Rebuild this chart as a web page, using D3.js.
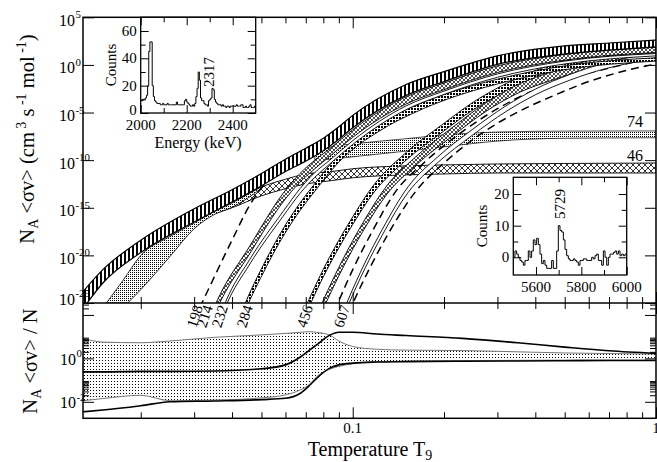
<!DOCTYPE html>
<html>
<head>
<meta charset="utf-8">
<script src="https://cdn.jsdelivr.net/npm/d3@7"></script>
<style>
  body { margin: 0; background: #fff; }
  text { font-family: "Liberation Serif", "DejaVu Serif", serif; fill: #000; }
</style>
</head>
<body>
<div id="chart"></div>
<script>
// ---------- data, log10 of N_A<sv> ----------
// total rate, vertical hatching
var tA  = [0.0129, 0.015, 0.02, 0.03, 0.04, 0.05, 0.06, 0.07, 0.08, 0.09, 0.1, 0.15, 0.2, 0.3, 0.5, 0.7, 1.0];
var aHi = [-23.8, -21.5, -18.4, -15.1, -13.1, -11.4, -9.9, -8.75, -7.7, -6.5, -5.3, -2.05, -0.7, 0.95, 2.0, 2.3, 2.6];
var aLo = [-25.6, -22.9, -19.7, -16.5, -14.4, -12.7, -11.2, -10.1, -9.0, -7.8, -6.6, -3.2, -1.75, 0.05, 1.15, 1.55, 1.9];
// low temperature stippled band
var tB  = [0.015, 0.0175, 0.02, 0.025, 0.03, 0.035, 0.04, 0.045, 0.05];
var bHi = [-25.5, -22.6, -20.0, -18.0, -16.6, -15.4, -14.5, -13.6, -12.8];
var bLo = [-28.0, -25.5, -23.6, -20.1, -17.2, -15.7, -14.95, -14.0, -12.95];
// "46" band, cross hatched
var t46  = [0.032, 0.04, 0.05, 0.06, 0.07, 0.085, 0.1, 0.15, 0.2, 0.3, 0.5, 1.0];
var hi46 = [-15.6, -14.2, -12.8, -12.0, -11.45, -11.2, -10.9, -10.6, -10.5, -10.4, -10.35, -10.3];
var lo46 = [-16.0, -15.0, -13.75, -13.0, -12.5, -12.15, -11.85, -11.55, -11.45, -11.35, -11.35, -11.35];
// "74" band, stippled
var t74  = [0.075, 0.085, 0.1, 0.15, 0.2, 0.3, 0.5, 1.0];
var hi74 = [-9.3, -8.6, -8.3, -7.75, -7.35, -7.05, -6.95, -6.93];
var lo74 = [-10.0, -9.9, -9.65, -9.05, -8.6, -8.0, -7.7, -7.65];
// narrow resonances
var t198 = [0.030, 0.0316, 0.040, 0.0458, 0.0525, 0.057];
var r198 = [-26.7, -25.2, -18.4, -14.7, -12.1, -11.0];
var t214  = [0.034, 0.0359, 0.0458, 0.0589, 0.067, 0.075, 0.084, 0.1, 0.15, 0.2, 0.3, 0.5, 1.0];
var hi214 = [-26.3, -24.6, -19.0, -13.5, -11.4, -10.0, -8.8, -6.8, -3.35, -1.9, -0.1, 1.1, 1.85];
var lo214 = [-27.1, -25.4, -19.8, -14.4, -12.3, -10.9, -9.6, -7.6, -4.1, -2.6, -0.8, 0.5, 1.3];
var t232  = [0.0365, 0.0382, 0.0458, 0.0589, 0.067, 0.075, 0.084, 0.1, 0.15, 0.2, 0.3, 0.5, 1.0];
var hi232 = [-26.4, -24.8, -20.4, -15.4, -13.0, -11.3, -10.0, -7.95, -4.3, -2.75, -0.95, 0.4, 1.2];
var lo232 = [-26.9, -25.3, -20.9, -15.9, -13.5, -11.8, -10.4, -8.35, -4.7, -3.1, -1.3, 0.1, 0.95];
var t284  = [0.043, 0.0448, 0.05, 0.06, 0.067, 0.074, 0.09, 0.123, 0.16, 0.209, 0.3, 0.5, 1.0];
var hi284 = [-26.0, -24.6, -21.4, -16.8, -14.5, -12.7, -9.4, -6.1, -4.3, -2.9, -1.5, -0.1, 0.75];
var lo284 = [-26.8, -25.4, -22.2, -17.6, -15.3, -13.5, -10.2, -6.9, -5.0, -3.5, -2.0, -0.5, 0.4];
var t456  = [0.069, 0.0718, 0.08, 0.09, 0.1, 0.1167, 0.15, 0.1986, 0.25, 0.323, 0.4, 0.5334, 0.7, 1.0];
var hi456 = [-25.8, -24.6, -21.45, -18.4, -15.95, -12.7, -9.2, -6.2, -3.9, -1.9, -0.6, 0.7, 1.35, 1.95];
var lo456 = [-26.6, -25.4, -22.25, -19.2, -16.75, -13.5, -10.0, -7.0, -4.7, -2.7, -1.4, -0.1, 0.55, 1.15];
var tX  = [0.078, 0.0804, 0.09, 0.1, 0.11, 0.1298, 0.16, 0.2176, 0.27, 0.3566, 0.45, 0.655, 0.8, 1.0];
var hiX = [-25.5, -24.55, -21.25, -18.45, -16.15, -12.65, -9.75, -6.35, -4.15, -1.95, -0.75, 0.75, 1.25, 1.7];
var loX = [-26.4, -25.45, -22.15, -19.35, -17.05, -13.55, -10.65, -7.25, -5.05, -2.85, -1.65, -0.15, 0.35, 0.8];
var tDa = [0.087, 0.0894, 0.1, 0.115, 0.14, 0.17, 0.2348, 0.3, 0.3846, 0.5, 0.7066, 0.85, 1.0];
var rDa = [-25.9, -25, -21.5, -17.7, -13.1, -10.4, -6.8, -4.6, -2.85, -1.55, -0.3, 0.3, 0.7];
var t607  = [0.094, 0.0965, 0.11, 0.125, 0.1522, 0.19, 0.2476, 0.32, 0.3995, 0.52, 0.68, 0.85, 1.0];
var hi607 = [-25.6, -24.7, -20.7, -17.3, -12.8, -9.7, -6.8, -4.3, -2.55, -1.0, 0.2, 0.9, 1.35];
var lo607 = [-26.2, -25.3, -21.3, -17.9, -13.4, -10.3, -7.4, -4.9, -3.15, -1.6, -0.4, 0.3, 0.75];
var tDb = [0.097, 0.1002, 0.115, 0.13, 0.163, 0.2, 0.2775, 0.35, 0.4653, 0.6, 0.7623, 0.9, 1.0];
var rDb = [-26.0, -25, -21.05, -17.9, -13.1, -10.3, -6.8, -4.95, -3.15, -1.75, -0.75, -0.2, 0.1];

var resLabels = ["198", "214", "232", "284", "456", "607"];
var resLabelT = [0.0321, 0.0346, 0.0388, 0.0469, 0.0740, 0.098];

// lower panel, log10 of ratio
var tR      = [0.0129, 0.015, 0.02, 0.025, 0.035, 0.05, 0.06, 0.067, 0.072, 0.076, 0.084, 0.09, 0.1, 0.12, 0.15, 0.23, 0.35, 0.5, 0.7, 1.0];
var rBandHi = [0.92, 0.75, 0.72, 0.8, 0.97, 1.08, 1.15, 1.2, 1.23, 1.2, 1.07, 0.8, 0.55, 0.42, 0.38, 0.36, 0.3, 0.25, 0.22, 0.2];
var rBandLo = [-1.95, -1.85, -1.7, -1.95, -1.92, -1.82, -1.68, -1.46, -1.2, -0.85, -0.5, -0.37, -0.25, -0.16, -0.13, -0.1, -0.09, -0.08, -0.08, -0.08];
var rMid    = [-0.62, -0.62, -0.6, -0.6, -0.58, -0.48, -0.3, 0.05, 0.38, 0.62, 1.07, 1.2, 1.2, 1.12, 1.05, 0.92, 0.72, 0.52, 0.35, 0.23];
var rLow    = [-2.46, -2.38, -2.18, -2.0, -1.96, -1.9, -1.84, -1.62, -1.25, -0.92, -0.45, -0.3, -0.22, -0.17, -0.15, -0.13, -0.12, -0.11, -0.1, -0.1];

// gamma spectra in the insets
var spec1Start = 2000, spec1Width = 5;
var spec1Counts = [9,9,10,10,11,13,20,45,52,52,20,12,9,8,7,7,
  7,6,6,7,6,6,6,7,6,6,6,6,6,6,
  6,8,6,6,6,6,6,6,9,10,8,7,6,5,5,6,5,7,
  12,18,30,24,11,9,
  9,7,6,6,5,9,10,11,18,17,10,8,7,6,6,6,5,6,5,5,4,5,5,4,5,5,5,5,5,6,5,5,5,6,6,4,4,5,4,4,5,6,4,4,4,5];
var spec2Start = 5500, spec2Width = 500 / 68;
var spec2Counts = [0,2,1,0,-1,-1.5,-2.5,-1,-1,2,0,2,5.5,4,6,4,1,-2,-1,-2.5,
  -3.5,-3.5,-3.5,-1,-3.5,-3.5,2,10,8.5,8,5.5,2.5,0.5,-0.5,-1,-1,-0.5,-1,-1.5,-2.5,
  -1,-1,-0.5,-0.5,-1,-1,-1,0,-0.5,0.5,1,-1,-1,-2.5,2,0,-2.5,0,1,1,
  1.5,2,1,2,0.5,1,0.5,1];

var yTopExp = [5, 0, -5, -10, -15, -20, -25];
var yBotExp = [0, -2];
var xMajor = [0.1, 1];
var xMinor = [0.02, 0.03, 0.04, 0.05, 0.06, 0.07, 0.08, 0.09, 0.2, 0.3, 0.4, 0.5, 0.6, 0.7, 0.8, 0.9];

// ---------- layout ----------
var W = 657, H = 462;
var L = 83, R = 656, TOP = 17.3, MID = 303, BOT = 418.3;

var svg = d3.select("#chart").append("svg").attr("width", W).attr("height", H);
svg.append("rect").attr("width", W).attr("height", H).attr("fill", "#fff");

var x = d3.scaleLog().domain([0.0129, 1]).range([L, R]);
var yTop = d3.scaleLog().domain([1e-25, 1e5]).range([MID, TOP]);
var yBot = d3.scaleLog().domain([Math.pow(10, -2.76), Math.pow(10, 2.55)]).range([BOT, MID]);

// patterns
var defs = svg.append("defs");
function pattern(id, w, h, draw) {
  var p = defs.append("pattern").attr("id", id).attr("patternUnits", "userSpaceOnUse")
    .attr("width", w).attr("height", h);
  p.append("rect").attr("width", w).attr("height", h).attr("fill", "#fff");
  draw(p);
}
pattern("vhatch", 4, 4, function(p){ p.append("rect").attr("width", 2).attr("height", 4).attr("fill", "#000"); });
pattern("dots", 2, 2, function(p){ p.append("rect").attr("width", 1).attr("height", 1).attr("fill", "#000"); });
pattern("dots3", 3, 3, function(p){ p.append("rect").attr("width", 1).attr("height", 1).attr("fill", "#000"); });
pattern("xhatch", 6, 6, function(p){ p.append("path").attr("d", "M0,0L6,6M6,0L0,6").attr("stroke", "#000").attr("stroke-width", 0.8); });
pattern("xhatchS", 4, 4, function(p){ p.append("path").attr("d", "M0,0L4,4M4,0L0,4").attr("stroke", "#000").attr("stroke-width", 0.7); });
pattern("blocks", 3, 3, function(p){ p.append("rect").attr("width", 2).attr("height", 2).attr("fill", "#000"); });

defs.append("clipPath").attr("id", "clipTop").append("rect")
  .attr("x", L).attr("y", TOP).attr("width", R - L).attr("height", MID - TOP);
defs.append("clipPath").attr("id", "clipBot").append("rect")
  .attr("x", L).attr("y", MID).attr("width", R - L).attr("height", BOT - MID);

function pts(t, a, b) {
  return t.map(function(v, i){ return { t: v, a: a[i], b: b ? b[i] : null }; });
}
var areaTop = d3.area().curve(d3.curveMonotoneX)
  .x(function(d){ return x(d.t); })
  .y0(function(d){ return yTop(Math.pow(10, d.b)); })
  .y1(function(d){ return yTop(Math.pow(10, d.a)); });
var lineTop = d3.line().curve(d3.curveMonotoneX)
  .x(function(d){ return x(d.t); })
  .y(function(d){ return yTop(Math.pow(10, d.a)); });

var gTop = svg.append("g").attr("clip-path", "url(#clipTop)");
function band(t, hi, lo, fill, sw) {
  gTop.append("path").datum(pts(t, hi, lo)).attr("d", areaTop)
    .attr("fill", fill).attr("stroke", "#000").attr("stroke-width", sw || 0.9);
}
function dashed(t, r) {
  gTop.append("path").datum(pts(t, r)).attr("d", lineTop)
    .attr("fill", "none").attr("stroke", "#000").attr("stroke-width", 1.5)
    .attr("stroke-dasharray", "8,5");
}

band(t46, hi46, lo46, "url(#xhatch)");
band(t74, hi74, lo74, "url(#dots)", 0.7);
band(tB, bHi, bLo, "url(#dots)", 0.8);
band(t456, hi456, lo456, "url(#blocks)");
band(tX, hiX, loX, "url(#xhatchS)");
dashed(tDa, rDa);
band(t607, hi607, lo607, "#fff");
dashed(tDb, rDb);
band(t284, hi284, lo284, "url(#blocks)");
band(t232, hi232, lo232, "#fff");
band(t214, hi214, lo214, "url(#xhatchS)");
dashed(t198, r198);
band(tA, aHi, aLo, "url(#vhatch)", 1.2);

// lower panel
var gBot = svg.append("g").attr("clip-path", "url(#clipBot)");
var rData = pts(tR, rBandHi, rBandLo);
gBot.append("path").datum(rData)
  .attr("d", d3.area().curve(d3.curveMonotoneX)
    .x(function(d){ return x(d.t); })
    .y0(function(d){ return yBot(Math.pow(10, d.b)); })
    .y1(function(d){ return yBot(Math.pow(10, d.a)); }))
  .attr("fill", "url(#dots3)").attr("stroke", "#777").attr("stroke-width", 1);
function rline(vals, col, sw) {
  gBot.append("path").datum(pts(tR, vals))
    .attr("d", d3.line().curve(d3.curveMonotoneX)
      .x(function(d){ return x(d.t); })
      .y(function(d){ return yBot(Math.pow(10, d.a)); }))
    .attr("fill", "none").attr("stroke", col).attr("stroke-width", sw);
}
rline(rMid, "#000", 1.6);
rline(rLow, "#000", 1.6);

// ---------- axes ----------
var ax = svg.append("g");
function noDomain(g) { g.select(".domain").remove(); g.selectAll("line").attr("stroke", "#000").attr("stroke-width", 1); }
function xTicks(yPos, dirUp, vals, len) {
  var a = dirUp ? d3.axisBottom(x) : d3.axisTop(x);
  ax.append("g").attr("transform", "translate(0," + yPos + ")")
    .call(a.tickValues(vals).tickSize(-len).tickFormat(""))
    .call(noDomain);
}
[[TOP, false], [MID, true], [MID, false], [BOT, true]].forEach(function(s){
  xTicks(s[0], s[1], xMajor, 11);
  xTicks(s[0], s[1], xMinor, 6);
});
var topVals = yTopExp.map(function(e){ return Math.pow(10, e); });
ax.append("g").attr("transform", "translate(" + L + ",0)")
  .call(d3.axisLeft(yTop).tickValues(topVals).tickSize(-11).tickFormat("")).call(noDomain);
ax.append("g").attr("transform", "translate(" + R + ",0)")
  .call(d3.axisRight(yTop).tickValues(topVals).tickSize(-11).tickFormat("")).call(noDomain);

var botMajor = [1e-2, 1, 1e2];
var botMinor = [];
botMajor.forEach(function(m){ for (var k = 2; k <= 9; k++) botMinor.push(m * k); });
botMinor = botMinor.filter(function(v){ return v < yBot.domain()[1]; });
[[L, d3.axisLeft], [R, d3.axisRight]].forEach(function(s){
  ax.append("g").attr("transform", "translate(" + s[0] + ",0)")
    .call(s[1](yBot).tickValues(botMajor).tickSize(-11).tickFormat("")).call(noDomain);
  ax.append("g").attr("transform", "translate(" + s[0] + ",0)")
    .call(s[1](yBot).tickValues(botMinor).tickSize(-6).tickFormat("")).call(noDomain);
});

// frames
svg.append("rect").attr("x", L).attr("y", TOP).attr("width", R - L).attr("height", BOT - TOP)
  .attr("fill", "none").attr("stroke", "#000").attr("stroke-width", 1.5);
svg.append("line").attr("x1", L).attr("x2", R).attr("y1", MID).attr("y2", MID)
  .attr("stroke", "#000").attr("stroke-width", 1.5);

// tick labels
function powLabel(xr, yb, e, size) {
  svg.append("text").attr("x", xr).attr("y", yb).attr("text-anchor", "end")
    .attr("font-size", size).text("10");
  svg.append("text").attr("x", xr + 0.5).attr("y", yb - size * 0.47)
    .attr("font-size", size * 0.68).text(String(e));
}
yTopExp.forEach(function(e){
  var ty = yTop(Math.pow(10, e));
  powLabel(75, e === -25 ? ty + 2 : ty + 8.5, e, 16);
});
yBotExp.forEach(function(e){
  powLabel(76, yBot(Math.pow(10, e)) + 6.5, e, 16);
});
svg.append("text").attr("x", x(0.1)).attr("y", 433).attr("text-anchor", "middle")
  .attr("font-size", 15).text("0.1");
svg.append("text").attr("x", x(1)).attr("y", 433).attr("text-anchor", "middle")
  .attr("font-size", 15).text("1");

// axis titles
var xt = svg.append("text").attr("x", 370).attr("y", 456).attr("text-anchor", "middle").attr("font-size", 20);
xt.append("tspan").text("Temperature T");
xt.append("tspan").attr("font-size", 14).attr("dy", 4).text("9");

var yt = svg.append("text").attr("transform", "translate(34,139) rotate(-90)")
  .attr("text-anchor", "middle").attr("font-size", 20.5);
yt.append("tspan").text("N");
yt.append("tspan").attr("font-size", 14).attr("dy", 4).text("A");
yt.append("tspan").attr("dy", -4).text(" <σv> (cm");
yt.append("tspan").attr("font-size", 14).attr("dy", -8).text(" 3");
yt.append("tspan").attr("dy", 8).text(" s");
yt.append("tspan").attr("font-size", 14).attr("dy", -8).text(" -1");
yt.append("tspan").attr("dy", 8).text(" mol");
yt.append("tspan").attr("font-size", 14).attr("dy", -8).text(" -1");
yt.append("tspan").attr("dy", 8).text(")");

var yb = svg.append("text").attr("transform", "translate(37,361) rotate(-90)")
  .attr("text-anchor", "middle").attr("font-size", 20.5);
yb.append("tspan").text("N");
yb.append("tspan").attr("font-size", 14).attr("dy", 4).text("A");
yb.append("tspan").attr("dy", -4).text(" <σv> / N");

// band and resonance labels
svg.append("text").attr("x", 627).attr("y", 127).attr("font-size", 16).text("74");
svg.append("text").attr("x", 627).attr("y", 161).attr("font-size", 16).text("46");
resLabels.forEach(function(lab, i){
  svg.append("text").attr("transform", "translate(" + x(resLabelT[i]) + ",307) rotate(-72)")
    .attr("text-anchor", "end").attr("font-size", 15).text(lab);
});

// ---------- insets ----------
function inset(o) {
  var g = svg.append("g");
  var xs = d3.scaleLinear().domain(o.xd).range([o.x0, o.x1]);
  var ys = d3.scaleLinear().domain(o.yd).range([o.y1, o.y0]);
  g.append("rect").attr("x", o.x0).attr("y", o.y0).attr("width", o.x1 - o.x0).attr("height", o.y1 - o.y0)
    .attr("fill", "#fff");
  var hist = o.counts.map(function(c, i){ return { e: o.start + i * o.width, c: c }; });
  hist.push({ e: o.start + o.counts.length * o.width, c: o.counts[o.counts.length - 1] });
  g.append("path").datum(hist)
    .attr("d", d3.line().curve(d3.curveStepAfter)
      .x(function(d){ return xs(Math.min(d.e, o.xd[1])); })
      .y(function(d){ return ys(d.c); }))
    .attr("fill", "none").attr("stroke", "#000").attr("stroke-width", 1);
  function tk(axis, tr, vals, len) {
    g.append("g").attr("transform", tr)
      .call(axis.tickValues(vals).tickSize(-len).tickFormat("")).call(noDomain);
  }
  tk(d3.axisTop(xs), "translate(0," + o.y0 + ")", o.xMaj, 8);
  tk(d3.axisTop(xs), "translate(0," + o.y0 + ")", o.xMin, 5);
  tk(d3.axisBottom(xs), "translate(0," + o.y1 + ")", o.xMaj, 8);
  tk(d3.axisBottom(xs), "translate(0," + o.y1 + ")", o.xMin, 5);
  tk(d3.axisLeft(ys), "translate(" + o.x0 + ",0)", o.yMaj, 8);
  tk(d3.axisLeft(ys), "translate(" + o.x0 + ",0)", o.yMin, 5);
  tk(d3.axisRight(ys), "translate(" + o.x1 + ",0)", o.yMaj, 8);
  tk(d3.axisRight(ys), "translate(" + o.x1 + ",0)", o.yMin, 5);
  g.append("rect").attr("x", o.x0).attr("y", o.y0).attr("width", o.x1 - o.x0).attr("height", o.y1 - o.y0)
    .attr("fill", "none").attr("stroke", "#000").attr("stroke-width", 1.3);
  o.yMaj.forEach(function(v){
    g.append("text").attr("x", o.x0 - 4).attr("y", ys(v) + (v === o.yd[0] ? 2 : 5)).attr("text-anchor", "end")
      .attr("font-size", 15).text(v);
  });
  o.xMaj.forEach(function(v){
    g.append("text").attr("x", xs(v)).attr("y", o.y1 + 17).attr("text-anchor", "middle")
      .attr("font-size", 15).text(v);
  });
  g.append("text").attr("transform", "translate(" + o.cx + "," + o.cy + ") rotate(-90)")
    .attr("text-anchor", "middle").attr("font-size", 15).text("Counts");
  g.append("text").attr("transform", "translate(" + xs(o.peak) + "," + o.py + ") rotate(-90)")
    .attr("text-anchor", "middle").attr("font-size", 15).text(o.peakLabel);
  return g;
}
var in1 = inset({ x0: 140.7, x1: 255.7, y0: TOP, y1: 113, xd: [2000, 2500], yd: [0, 70],
  start: spec1Start, width: spec1Width, counts: spec1Counts,
  xMaj: [2000, 2200, 2400], xMin: [2100, 2300], yMaj: [0, 20, 40, 60], yMin: [10, 30, 50],
  cx: 116, cy: 65, peak: 2317, peakLabel: "2317", py: 72 });
in1.append("text").attr("x", 198).attr("y", 148).attr("text-anchor", "middle")
  .attr("font-size", 16).text("Energy (keV)");
inset({ x0: 513.3, x1: 626.7, y0: 177.3, y1: 275, xd: [5500, 6000], yd: [-5.6, 25.3],
  start: spec2Start, width: spec2Width, counts: spec2Counts,
  xMaj: [5600, 5800, 6000], xMin: [5700, 5900], yMaj: [0, 10, 20], yMin: [5, 15],
  cx: 487, cy: 226, peak: 5729, peakLabel: "5729", py: 204 });
</script>
</body>
</html>
